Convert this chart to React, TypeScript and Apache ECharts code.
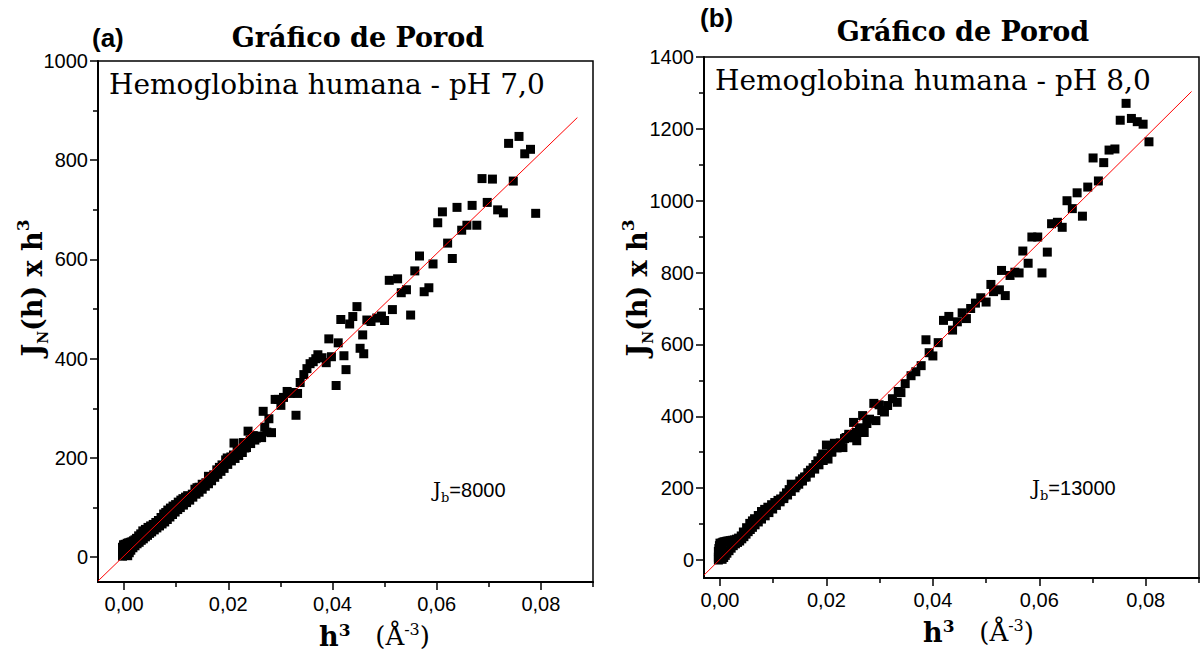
import React, { useEffect, useRef } from "react";
import * as echarts from "echarts";

// Porod plot data: h^3 (Å^-3) versus J_N(h)·h^3, human hemoglobin at two pH values
const porodPH7: [number, number][] = [
  [-0.0003, 2], [-0.0003, 9], [-0.0002, 15], [-0.0003, 20], [-0.0001, 25], [0.0, 4], [0.0001, 11], [0.0001, 18],
  [0.0002, 26], [0.0003, 6], [0.0004, 14], [0.0005, 22], [0.0006, 28], [0.0009, 29], [0.0012, 30], [0.0015, 31],
  [0.0018, 33], [0.0021, 35], [0.0007, 3], [0.001, 9], [0.0013, 14], [0.0017, 19], [0.0021, 23], [0.0025, 27],
  [0.0029, 30], [0.0033, 34], [0.0037, 37], [0.0041, 41], [0.0045, 44], [0.0049, 48], [0.0053, 51], [0.0058, 55],
  [0.0063, 59], [0.0068, 63], [0.0073, 67], [0.0078, 71], [0.0083, 76], [0.0088, 81], [0.0093, 86], [0.0098, 91],
  [0.0103, 96], [0.0108, 100], [0.0114, 105], [0.012, 110], [0.0126, 115], [0.0132, 121], [0.0138, 127], [0.0144, 131],
  [0.015, 137], [0.0156, 143], [0.0162, 148], [0.0168, 154], [0.0174, 161], [0.018, 167], [0.0186, 173], [0.0192, 179],
  [0.0199, 187], [0.0206, 194], [0.0213, 199], [0.022, 205], [0.0227, 211], [0.0235, 221], [0.0243, 229], [0.0251, 236],
  [0.0024, 38], [0.0028, 43], [0.0032, 47], [0.0036, 53], [0.0041, 56], [0.0046, 60], [0.0051, 63], [0.0056, 66],
  [0.0061, 70], [0.0066, 74], [0.0071, 80], [0.0076, 87], [0.008, 90], [0.0084, 95], [0.0089, 99], [0.0094, 103],
  [0.0099, 106], [0.0104, 111], [0.0109, 115], [0.0113, 118], [0.0118, 121], [0.0122, 124], [0.0127, 122], [0.0131, 127],
  [0.0136, 137], [0.014, 140], [0.0144, 141], [0.015, 147], [0.0157, 150], [0.0162, 163], [0.0167, 158], [0.0172, 166],
  [0.0178, 176], [0.0183, 181], [0.0188, 186], [0.0195, 196], [0.0198, 200], [0.0205, 202], [0.021, 206], [0.0211, 230],
  [0.0217, 213], [0.0223, 216], [0.0229, 231], [0.0232, 220], [0.0238, 254], [0.0242, 236], [0.0248, 245], [0.0254, 240],
  [0.0259, 244], [0.0264, 241], [0.0267, 294], [0.027, 262], [0.0274, 252], [0.0278, 279], [0.0283, 251], [0.029, 318],
  [0.0296, 318], [0.0301, 306], [0.0306, 322], [0.0313, 334], [0.0319, 330], [0.0324, 332], [0.033, 286], [0.0333, 330],
  [0.0338, 352], [0.0345, 368], [0.0351, 380], [0.0357, 390], [0.0363, 394], [0.0368, 400], [0.0372, 408], [0.038, 402],
  [0.0388, 392], [0.0393, 440], [0.0398, 404], [0.0407, 346], [0.0411, 432], [0.0416, 479], [0.0422, 406], [0.0426, 378],
  [0.0433, 470], [0.0439, 485], [0.0447, 505], [0.0453, 421], [0.0458, 448], [0.046, 410], [0.0466, 478], [0.0474, 475],
  [0.0485, 482], [0.0494, 486], [0.05, 477], [0.0509, 558], [0.0515, 499], [0.0525, 561], [0.0532, 533], [0.0542, 539],
  [0.055, 488], [0.0558, 577], [0.0567, 607], [0.0576, 535], [0.0585, 543], [0.0593, 591], [0.0602, 674], [0.0611, 696],
  [0.0621, 633], [0.063, 602], [0.0639, 705], [0.0648, 659], [0.0658, 669], [0.0668, 709], [0.0677, 669], [0.0687, 763],
  [0.0697, 715], [0.0707, 762], [0.0717, 700], [0.0728, 694], [0.0738, 834], [0.0747, 758], [0.0758, 848], [0.0769, 813],
  [0.078, 822], [0.079, 693],
];

const porodPH8: [number, number][] = [
  [-0.0003, 0], [-0.0003, 8], [-0.0002, 16], [-0.0003, 24], [-0.0002, 32], [-0.0001, 40], [0.0, 47], [0.0001, 4],
  [0.0001, 20], [0.0002, 12], [0.0002, 36], [0.0003, 28], [0.0004, 48], [0.0006, 50], [0.0009, 51], [0.0012, 52],
  [0.0015, 53], [0.0019, 54], [0.0023, 55], [0.0027, 56], [0.0031, 58], [0.0035, 61], [0.0004, 2], [0.0007, 7],
  [0.001, 13], [0.0013, 19], [0.0017, 26], [0.0021, 33], [0.0025, 40], [0.0029, 45], [0.0033, 49], [0.0037, 53],
  [0.0041, 59], [0.0045, 65], [0.0049, 72], [0.0053, 79], [0.0057, 85], [0.0061, 91], [0.0066, 98], [0.0072, 106],
  [0.0078, 114], [0.0085, 123], [0.0092, 132], [0.0099, 142], [0.0106, 152], [0.0113, 162], [0.012, 171], [0.0127, 181],
  [0.0134, 191], [0.0141, 201], [0.0148, 211], [0.0155, 220], [0.0162, 231], [0.017, 242], [0.0178, 253], [0.0186, 265],
  [0.0194, 277], [0.0202, 290], [0.021, 302], [0.0218, 314], [0.0226, 326], [0.0234, 338], [0.0242, 350], [0.004, 67],
  [0.0044, 78], [0.005, 90], [0.0056, 102], [0.0061, 109], [0.0065, 115], [0.0072, 124], [0.0078, 135], [0.0084, 141],
  [0.009, 147], [0.0097, 154], [0.0103, 160], [0.0109, 166], [0.0114, 170], [0.012, 178], [0.0125, 187], [0.013, 196],
  [0.0134, 211], [0.0139, 204], [0.0143, 207], [0.015, 220], [0.0155, 226], [0.0159, 231], [0.0165, 243], [0.017, 250],
  [0.0175, 257], [0.018, 266], [0.0184, 276], [0.019, 285], [0.0193, 295], [0.02, 320], [0.0203, 281], [0.021, 300],
  [0.0215, 325], [0.022, 312], [0.0226, 318], [0.0231, 313], [0.0237, 341], [0.0242, 345], [0.0247, 340], [0.0251, 383],
  [0.0256, 355], [0.0257, 332], [0.0262, 368], [0.0268, 402], [0.0271, 355], [0.0276, 380], [0.0281, 392], [0.0289, 436],
  [0.0293, 388], [0.0299, 432], [0.0304, 416], [0.0309, 412], [0.0315, 430], [0.0324, 449], [0.0333, 439], [0.0335, 469],
  [0.034, 466], [0.0348, 491], [0.0359, 513], [0.0368, 524], [0.0378, 541], [0.0387, 613], [0.0393, 577], [0.04, 568],
  [0.041, 605], [0.042, 667], [0.043, 678], [0.0437, 640], [0.0446, 663], [0.0455, 688], [0.0463, 672], [0.0471, 700],
  [0.048, 715], [0.049, 730], [0.05, 718], [0.0509, 767], [0.0514, 747], [0.0525, 752], [0.0529, 806], [0.0536, 736],
  [0.0545, 792], [0.0554, 801], [0.0562, 799], [0.0569, 860], [0.0579, 826], [0.0586, 899], [0.0597, 899], [0.0605, 799],
  [0.0615, 857], [0.0623, 936], [0.0634, 940], [0.0643, 926], [0.0652, 1000], [0.0662, 978], [0.0671, 1022], [0.0681, 957],
  [0.0691, 1038], [0.0701, 1119], [0.0711, 1055], [0.0721, 1106], [0.0731, 1141], [0.0742, 1144], [0.0752, 1224], [0.0763, 1271],
  [0.0773, 1229], [0.0784, 1220], [0.0795, 1213], [0.0806, 1164],
];

// Linear fits (end points of the red lines)
const fitPH7: [number, number][] = [[-0.005, -48], [0.087, 886]];
const fitPH8: [number, number][] = [[-0.003, -42], [0.0886, 1304]];

// Axis ticks
const xMajor = [0, 0.02, 0.04, 0.06, 0.08];
const xMinor = [0.01, 0.03, 0.05, 0.07, 0.09];
const yMajorPH7 = [0, 200, 400, 600, 800, 1000];
const yMinorPH7 = [100, 300, 500, 700, 900];
const yMajorPH8 = [0, 200, 400, 600, 800, 1000, 1200, 1400];
const yMinorPH8 = [100, 300, 500, 700, 900, 1100, 1300];

const SANS = "'Liberation Sans', Arial, sans-serif";
const SERIF = "'DejaVu Serif', serif";

function majorAxis(gridIndex: number, min: number, max: number, ticks: number[], isX: boolean) {
  return {
    type: "value",
    gridIndex,
    min,
    max,
    position: isX ? "bottom" : "left",
    axisLine: { show: true, onZero: false, lineStyle: { color: "#000", width: 2 } },
    axisTick: { show: true, inside: false, length: 8, customValues: ticks, lineStyle: { color: "#000", width: 1.5 } },
    axisLabel: {
      show: true,
      customValues: ticks,
      margin: isX ? 12 : 10,
      color: "#000",
      fontFamily: SANS,
      fontSize: 20,
      formatter: isX ? (v: number) => v.toFixed(2).replace(".", ",") : (v: number) => String(v),
    },
    splitLine: { show: false },
  };
}

function minorAxis(gridIndex: number, min: number, max: number, ticks: number[], isX: boolean) {
  return {
    type: "value",
    gridIndex,
    min,
    max,
    position: isX ? "bottom" : "left",
    axisLine: { show: false, onZero: false },
    axisTick: { show: true, inside: false, length: 5, customValues: ticks, lineStyle: { color: "#000", width: 1.5 } },
    axisLabel: { show: false },
    splitLine: { show: false },
  };
}

function panelTexts(o: {
  tag: string; tagX: number; tagY: number;
  titleX: number; titleY: number;
  sample: string; sampleX: number; sampleY: number;
  jb: string; jbX: number; jbY: number;
  yTitleX: number; yTitleY: number;
  xTitleX: number; xTitleY: number;
}) {
  return [
    {
      type: "text", x: o.tagX, y: o.tagY,
      style: { text: o.tag, fill: "#000", font: `bold 26px ${SANS}`, align: "left", verticalAlign: "middle" },
    },
    {
      type: "text", x: o.titleX, y: o.titleY,
      style: { text: "Gráfico de Porod", fill: "#000", font: `bold 27px ${SERIF}`, align: "center", verticalAlign: "middle" },
    },
    {
      type: "text", x: o.sampleX, y: o.sampleY,
      style: { text: o.sample, fill: "#000", font: `28px ${SERIF}`, align: "left", verticalAlign: "middle" },
    },
    {
      type: "text", x: o.jbX, y: o.jbY,
      style: {
        text: `{j|J}{s|b}{v|=${o.jb}}`,
        align: "left", verticalAlign: "middle",
        rich: {
          j: { fontFamily: SERIF, fontSize: 20, fill: "#000", lineHeight: 28, verticalAlign: "middle" },
          s: { fontFamily: SERIF, fontSize: 13, fill: "#000", lineHeight: 28, verticalAlign: "bottom" },
          v: { fontFamily: SANS, fontSize: 20, fill: "#000", lineHeight: 28, verticalAlign: "middle" },
        },
      },
    },
    {
      type: "text", x: o.yTitleX, y: o.yTitleY, rotation: Math.PI / 2,
      style: {
        text: "{b|J}{s|N}{b|(h) x h}{p|3}",
        align: "center", verticalAlign: "middle",
        rich: {
          b: { fontFamily: SERIF, fontWeight: "bold", fontSize: 27, fill: "#000", lineHeight: 36, verticalAlign: "middle" },
          s: { fontFamily: SERIF, fontWeight: "bold", fontSize: 14, fill: "#000", lineHeight: 36, verticalAlign: "bottom" },
          p: { fontFamily: SERIF, fontWeight: "bold", fontSize: 17, fill: "#000", lineHeight: 36, verticalAlign: "top" },
        },
      },
    },
    {
      type: "text", x: o.xTitleX, y: o.xTitleY,
      style: {
        text: "{b|h}{p|3}{r|   (Å}{q|-3}{r|)}",
        align: "left", verticalAlign: "middle",
        rich: {
          b: { fontFamily: SERIF, fontWeight: "bold", fontSize: 27, fill: "#000", lineHeight: 30, verticalAlign: "middle" },
          p: { fontFamily: SERIF, fontWeight: "bold", fontSize: 17, fill: "#000", lineHeight: 30, verticalAlign: "top" },
          r: { fontFamily: SERIF, fontSize: 26, fill: "#000", lineHeight: 30, verticalAlign: "middle" },
          q: { fontFamily: SERIF, fontSize: 16, fill: "#000", lineHeight: 30, verticalAlign: "top" },
        },
      },
    },
  ];
}

export default function App() {
  const ref = useRef<HTMLDivElement>(null);

  useEffect(() => {
    if (!ref.current) return;
    const chart = echarts.init(ref.current, null, { renderer: "svg" });

    const gridStyle = { show: true, borderColor: "#000", borderWidth: 1.5, backgroundColor: "#fff" };
    const marker = { symbol: "rect", symbolSize: 9, itemStyle: { color: "#000", opacity: 1 }, z: 2 };
    const fitLine = { showSymbol: false, lineStyle: { color: "#ff0000", width: 1 }, z: 3 };

    chart.setOption({
      animation: false,
      backgroundColor: "#fff",
      grid: [
        { left: 98, top: 61, width: 495, height: 521, ...gridStyle },
        { left: 704, top: 57, width: 495, height: 521, ...gridStyle },
      ],
      xAxis: [
        majorAxis(0, -0.005, 0.09, xMajor, true),
        minorAxis(0, -0.005, 0.09, xMinor, true),
        majorAxis(1, -0.003, 0.09, xMajor, true),
        minorAxis(1, -0.003, 0.09, xMinor, true),
      ],
      yAxis: [
        majorAxis(0, -50, 1000, yMajorPH7, false),
        minorAxis(0, -50, 1000, yMinorPH7, false),
        majorAxis(1, -50, 1400, yMajorPH8, false),
        minorAxis(1, -50, 1400, yMinorPH8, false),
      ],
      series: [
        { type: "scatter", xAxisIndex: 0, yAxisIndex: 0, data: porodPH7, ...marker },
        { type: "line", xAxisIndex: 0, yAxisIndex: 0, data: fitPH7, ...fitLine },
        { type: "scatter", xAxisIndex: 2, yAxisIndex: 2, data: porodPH8, ...marker },
        { type: "line", xAxisIndex: 2, yAxisIndex: 2, data: fitPH8, ...fitLine },
      ],
      graphic: [
        ...panelTexts({
          tag: "(a)", tagX: 92, tagY: 38,
          titleX: 358, titleY: 37,
          sample: "Hemoglobina humana - pH 7,0", sampleX: 109, sampleY: 84,
          jb: "8000", jbX: 433, jbY: 490,
          yTitleX: 32, yTitleY: 288,
          xTitleX: 319, xTitleY: 636,
        }),
        ...panelTexts({
          tag: "(b)", tagX: 700, tagY: 18,
          titleX: 963, titleY: 31,
          sample: "Hemoglobina humana - pH 8,0", sampleX: 715, sampleY: 80,
          jb: "13000", jbX: 1032, jbY: 488,
          yTitleX: 637, yTitleY: 288,
          xTitleX: 923, xTitleY: 632,
        }),
      ],
    });

    return () => chart.dispose();
  }, []);

  return (
    <div
      ref={ref}
      style={{ position: "absolute", left: 0, top: 0, width: 1201, height: 659 }}
    />
  );
}
